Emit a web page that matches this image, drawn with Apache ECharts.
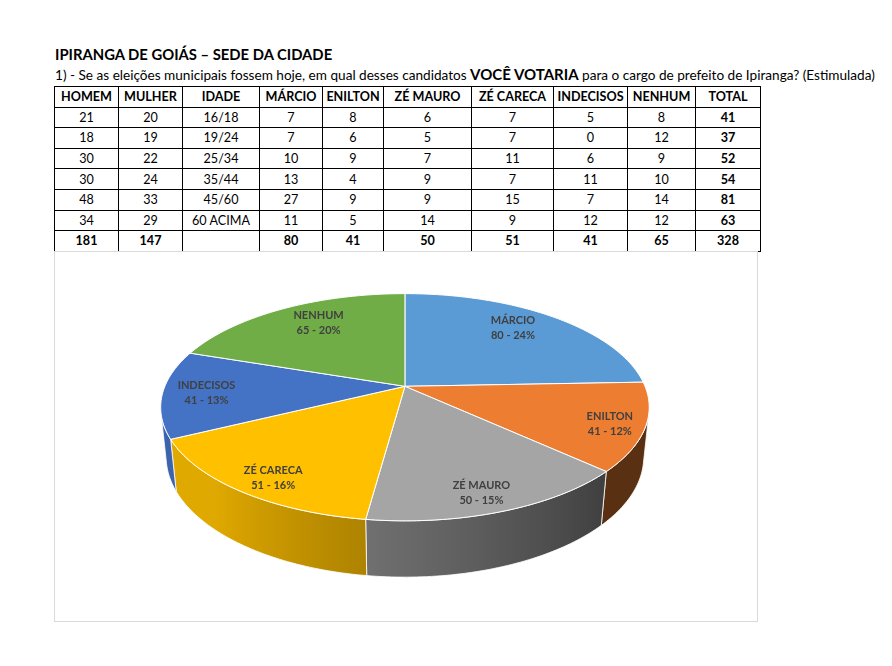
<!DOCTYPE html>
<html>
<head>
<meta charset="utf-8">
<script src="https://cdn.jsdelivr.net/npm/echarts@6/dist/echarts.min.js"></script>
<style>
  body { margin: 0; background: #fff; font-family: Lato, 'Open Sans', sans-serif; color: #000; }
  .title { position: absolute; left: 55px; top: 45px; font-weight: bold; font-size: 14.8px; white-space: nowrap; }
  .question { position: absolute; left: 55px; top: 65px; font-size: 13.6px; white-space: nowrap; }
  .question b { font-size: 15px; }
  #tabela { position: absolute; left: 54px; top: 86px; border-collapse: collapse; table-layout: fixed; width: 706px; }
  #tabela td, #tabela th { border: 1px solid #000; height: 19.6px; padding: 0; text-align: center; font-size: 12.6px; }
  #tabela th, #tabela td.b { font-weight: bold; }
  #chart { position: absolute; left: 54px; top: 251px; width: 704px; height: 371px; border: 1px solid #d9d9d9; box-sizing: border-box; }
</style>
</head>
<body>
<div class="title">IPIRANGA DE GOIÁS – SEDE DA CIDADE</div>
<div class="question">1) - Se as eleições municipais fossem hoje, em qual desses candidatos <b>VOCÊ VOTARIA</b> para o cargo de prefeito de Ipiranga? (Estimulada)</div>
<table id="tabela"></table>
<div id="chart"></div>
<script>
// dados da tabela
const headers = ['HOMEM', 'MULHER', 'IDADE', 'MÁRCIO', 'ENILTON', 'ZÉ MAURO', 'ZÉ CARECA', 'INDECISOS', 'NENHUM', 'TOTAL'];
const men = [21, 18, 30, 30, 48, 34];
const women = [20, 19, 22, 24, 33, 29];
const ageGroups = ['16/18', '19/24', '25/34', '35/44', '45/60', '60 ACIMA'];
const votesByAge = [
  [7, 8, 6, 7, 5, 8, 41],
  [7, 6, 5, 7, 0, 12, 37],
  [10, 9, 7, 11, 6, 9, 52],
  [13, 4, 9, 7, 11, 10, 54],
  [27, 9, 9, 15, 7, 14, 81],
  [11, 5, 14, 9, 12, 12, 63],
];
const totalsRow = [181, 147, '', 80, 41, 50, 51, 41, 65, 328];

// dados do grafico
const candidates = ['MÁRCIO', 'ENILTON', 'ZÉ MAURO', 'ZÉ CARECA', 'INDECISOS', 'NENHUM'];
const votes = [80, 41, 50, 51, 41, 65];
const shares = [24, 12, 15, 16, 13, 20];

// estilo
const colWidths = [64, 64, 77, 63, 61, 88, 82, 74, 68, 65];
const colors = ['#5B9BD5', '#ED7D31', '#A5A5A5', '#FFC000', '#4472C4', '#70AD47'];
const labelRadius = [0.71, 0.86, 0.81, 0.825, 0.82, 0.68];

// monta a tabela
const tabela = document.getElementById('tabela');
let html = '<colgroup>' + colWidths.map((w) => `<col style="width:${w}px">`).join('') + '</colgroup>';
html += '<tr>' + headers.map((h) => `<th>${h}</th>`).join('') + '</tr>';
ageGroups.forEach((age, i) => {
  const cells = [men[i], women[i], age].concat(votesByAge[i]);
  html += '<tr>' + cells.map((c, j) => `<td${j === cells.length - 1 ? ' class="b"' : ''}>${c}</td>`).join('') + '</tr>';
});
html += '<tr>' + totalsRow.map((c) => `<td class="b">${c}</td>`).join('') + '</tr>';
tabela.innerHTML = html;

// pizza 3D (perspectiva)
const TILT = 27.2 * Math.PI / 180;
const DIST = 4.83; // distancia da camera em raios
const DEPTH = 0.235; // altura da pizza em raios
const SIL = Math.acos(-1 / (DIST * Math.cos(TILT))) * 180 / Math.PI; // silhueta lateral
const total = votes.reduce((a, b) => a + b, 0);

function project(deg, r, y, cx, cy, k) {
  const t = deg * Math.PI / 180;
  const x = r * Math.sin(t);
  const z = -r * Math.cos(t);
  const w = 1 - (z * Math.cos(TILT) + y * Math.sin(TILT)) / DIST;
  return [cx + k * x / w, cy + k * (z * Math.sin(TILT) - y * Math.cos(TILT)) / w];
}

function arc(a0, a1, y, cx, cy, k) {
  const n = Math.max(2, Math.ceil(Math.abs(a1 - a0)));
  const pts = [];
  for (let i = 0; i <= n; i++) pts.push(project(a0 + (a1 - a0) * i / n, 1, y, cx, cy, k));
  return pts;
}

function shade(hex, f) {
  const n = parseInt(hex.slice(1), 16);
  const r = Math.round(((n >> 16) & 255) * f);
  const g = Math.round(((n >> 8) & 255) * f);
  const b = Math.round((n & 255) * f);
  return `rgb(${r},${g},${b})`;
}

function light(deg) {
  return Math.min(0.88, Math.max(0.38, 0.38 + (deg - 133) * 0.0055));
}

const chart = echarts.init(document.getElementById('chart'));
chart.setOption({
  animation: false,
  series: [{
    type: 'custom',
    coordinateSystem: 'none',
    data: votes.map((v, i) => ({ value: v, name: candidates[i] })),
    renderItem(params, api) {
      const i = params.dataIndex;
      const W = api.getWidth();
      const H = api.getHeight();
      const cx = W * 0.4985;
      const cy = H * 0.364;
      const k = W * 0.342;
      const before = votes.slice(0, i).reduce((a, b) => a + b, 0);
      const a0 = before / total * 360;
      const a1 = (before + api.value(0)) / total * 360;
      const children = [];

      // lateral visivel
      const sa = Math.max(a0, SIL);
      const sb = Math.min(a1, 360 - SIL);
      if (sb > sa) {
        const pts = arc(sa, sb, 0, cx, cy, k).concat(arc(sb, sa, -DEPTH, cx, cy, k));
        const xs = [];
        for (let j = 0; j <= 8; j++) {
          const d = sa + (sb - sa) * j / 8;
          xs.push([project(d, 1, 0, cx, cy, k)[0], d]);
        }
        const xmin = Math.min(...xs.map((p) => p[0]));
        const xmax = Math.max(...xs.map((p) => p[0]));
        const stops = xs.sort((p, q) => p[0] - q[0]).map((p) => ({
          offset: (p[0] - xmin) / (xmax - xmin || 1),
          color: shade(colors[i], light(p[1])),
        }));
        children.push({
          type: 'polygon',
          z2: 1,
          shape: { points: pts },
          style: {
            fill: { type: 'linear', x: xmin, y: 0, x2: xmax, y2: 0, global: true, colorStops: stops },
            stroke: '#fff',
            lineWidth: 0.8,
          },
        });
      }

      // topo
      const top = [project(0, 0, 0, cx, cy, k)].concat(arc(a0, a1, 0, cx, cy, k));
      children.push({
        type: 'polygon',
        z2: 2,
        shape: { points: top },
        style: { fill: colors[i], stroke: '#fff', lineWidth: 1 },
      });

      // rotulo
      const mid = (a0 + a1) / 2;
      const p = project(mid, labelRadius[i], 0, cx, cy, k);
      children.push({
        type: 'text',
        z2: 3,
        style: {
          x: p[0],
          y: p[1] - 10 * Math.cos(mid * Math.PI / 180),
          text: `${candidates[i]}\n${api.value(0)} - ${shares[i]}%`,
          fill: '#404040',
          font: 'bold 11px Lato, sans-serif',
          align: 'center',
          verticalAlign: 'middle',
          lineHeight: 15,
        },
      });
      return { type: 'group', children };
    },
  }],
});
</script>
</body>
</html>
